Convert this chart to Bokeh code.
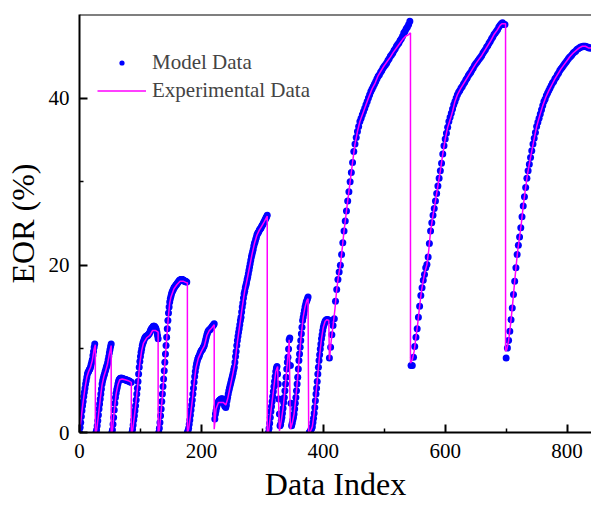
from bokeh.plotting import figure
from bokeh.models import Range1d, FixedTicker, Span, Legend, LegendItem, Title
from bokeh.embed import file_html
from bokeh.resources import INLINE

# ---- Model data (blue dots): segments of data indices (start, step, values) ----
model_a_start, model_a_step = 0, 1
model_a = [0.0, 0.6, 1.2, 1.9, 2.6, 3.2, 3.7, 4.3, 4.8, 5.3, 5.8, 6.2, 6.6, 7.0, 7.2, 7.3, 7.5, 7.6, 7.8, 8.1,
           8.4, 8.7, 9.2, 9.7, 10.2, 10.6]
model_b_start, model_b_step = 27, 1
model_b = [0.0, 0.3, 0.8, 1.4, 2.1, 2.8, 3.4, 4.0, 4.6, 5.2, 5.8, 6.2, 6.5, 6.8, 7.0, 7.3, 7.5, 7.8, 8.0, 8.3,
           8.7, 9.1, 9.5, 9.9, 10.3, 10.6]
model_c_start, model_c_step = 53, 1
model_c = [0.0, 0.3, 1.0, 1.8, 2.7, 3.5, 4.2, 4.7, 5.1, 5.4, 5.8, 6.1, 6.3, 6.4, 6.5, 6.5, 6.5, 6.5, 6.4, 6.4,
           6.4, 6.3, 6.3, 6.3, 6.3, 6.2, 6.2, 6.2, 6.2, 6.1, 6.1, 6.0, 6.0]
model_d_start, model_d_step = 86, 1
model_d = [0.0, 0.4, 0.9, 1.5, 2.0, 2.6, 3.2, 3.9, 4.6, 5.3, 6.1, 7.0, 7.8, 8.5, 9.1, 9.6, 10.0, 10.4, 10.7, 10.9,
           11.1, 11.3, 11.4, 11.5, 11.5, 11.6, 11.6, 11.7, 11.8, 11.9, 12.1, 12.3, 12.4, 12.5, 12.6, 12.7, 12.7,
           12.7, 12.6, 12.5, 12.3, 12.0, 11.6, 11.2]
model_e_start, model_e_step = 130, 1
model_e = [0.0, 0.5, 1.2, 2.0, 2.8, 3.7, 4.6, 5.5, 6.4, 7.4, 8.4, 9.4, 10.4, 11.4, 12.4, 13.4, 14.3, 15.0, 15.6,
           16.0, 16.3, 16.6, 16.8, 17.0, 17.1, 17.3, 17.4, 17.5, 17.6, 17.7, 17.8, 17.9, 18.0, 18.1, 18.2, 18.2,
           18.3, 18.3, 18.3, 18.3, 18.2, 18.2, 18.1, 18.1, 18.1, 18.0, 18.0]
model_f_start, model_f_step = 177, 1
model_f = [0.0, 0.2, 0.5, 1.0, 1.5, 2.1, 2.7, 3.3, 3.9, 4.6, 5.3, 6.0, 6.7, 7.3, 7.8, 8.2, 8.5, 8.8, 9.0, 9.1,
           9.3, 9.5, 9.7, 9.8, 9.9, 10.0, 10.2, 10.3, 10.5, 10.8, 11.1, 11.4, 11.7, 11.9, 12.1, 12.2, 12.3, 12.3,
           12.4, 12.5, 12.6, 12.7, 12.8, 12.9, 13.0]
model_g_start, model_g_step = 222, 1
model_g = [1.6, 2.2, 2.6, 3.0, 3.3, 3.5, 3.7, 3.8, 3.9, 3.9, 4.0, 4.0, 4.0, 4.0, 3.8, 3.5, 3.2, 3.1, 3.0, 3.3,
           3.8, 4.2, 4.6, 5.0, 5.3, 5.6, 5.9, 6.2, 6.5, 6.8, 7.1, 7.5, 7.8, 8.4, 9.1, 9.7, 10.4, 11.0, 11.5, 12.0,
           12.4, 12.9, 13.4, 13.8, 14.4, 15.0, 15.5, 16.1, 16.6, 16.9, 17.3, 17.6, 17.9, 18.3, 18.6, 19.0, 19.4,
           19.8, 20.2, 20.6, 21.0, 21.3, 21.6, 21.9, 22.3, 22.6, 22.8, 23.1, 23.3, 23.6, 23.8, 23.9, 24.0, 24.2,
           24.3, 24.4, 24.5, 24.7, 24.8, 24.9, 25.1, 25.2, 25.4, 25.5, 25.7, 25.8, 26.0]
model_h_start, model_h_step = 310, 1
model_h = [0.0, 0.5, 1.1, 1.8, 2.5, 3.1, 3.7, 4.3, 4.9, 5.5, 6.1, 6.7, 7.3, 7.7, 7.9, 7.0, 5.8, 4.0, 2.2]
model_i_start, model_i_step = 329, 1
model_i = [0.8, 1.0, 1.4, 1.8, 2.3, 2.9, 3.6, 4.2, 5.0, 5.8, 6.6, 7.6, 8.4, 9.0, 10.0, 11.1, 11.3, 8.0, 3.5]
model_j_start, model_j_step = 348, 1
model_j = [0.8, 1.1, 1.5, 1.8, 2.2, 2.8, 3.5, 4.2, 5.0, 5.8, 6.6, 7.6, 8.6, 9.4, 10.2, 11.0, 11.8, 12.6, 13.4,
           13.8, 14.2, 14.6, 15.0, 15.3, 15.6, 15.8, 16.0, 16.2]
model_k_start, model_k_step = 377, 1
model_k = [0.0, 0.1, 0.2, 0.4, 0.5, 0.7, 1.2, 1.7, 2.3, 3.0, 3.8, 4.6, 5.3, 6.1, 7.0, 7.8, 8.6, 9.3, 10.0, 10.6,
           11.2, 11.7, 12.2, 12.6, 12.9, 13.1, 13.3, 13.4, 13.5, 13.5, 13.5, 13.5, 13.4]
model_l_start, model_l_step = 410, 2
model_l = [8.9, 10.2, 11.7, 12.8, 13.6, 15.7, 17.1, 18.3, 19.2, 20.0,
           21.3, 22.7, 24.1, 25.3, 26.5, 27.7, 28.8, 30.0, 31.1, 32.3,
           33.6, 34.5, 35.3, 36.0, 36.6, 37.2, 37.6, 38.0, 38.4, 38.8,
           39.2, 39.6, 40.0, 40.4, 40.8, 41.1, 41.4, 41.7, 42.0, 42.3,
           42.6, 42.8, 43.1, 43.3, 43.6, 43.8, 44.0, 44.2, 44.5, 44.7,
           45.0, 45.2, 45.4, 45.7, 45.9, 46.2, 46.4, 46.6, 46.9, 47.1,
           47.4, 47.8, 48.0, 48.3, 48.5, 48.8, 49.2]
model_m_start, model_m_step = 544, 2
model_m = [8.0, 8.0, 9.0, 10.3, 11.4, 12.4, 13.8, 15.1, 16.4, 17.3,
           18.2, 18.9, 19.7, 20.1, 21.0, 22.6, 24.1, 25.1, 26.0, 26.8,
           27.7, 28.6, 29.5, 30.4, 31.3, 32.2, 33.3, 34.3, 35.1, 35.8,
           36.5, 37.2, 37.7, 38.2, 38.7, 39.2, 39.6, 40.0, 40.4, 40.7,
           40.9, 41.2, 41.4, 41.7, 41.9, 42.2, 42.4, 42.7, 42.9, 43.1,
           43.4, 43.6, 43.9, 44.1, 44.3, 44.5, 44.7, 44.9, 45.1, 45.4,
           45.6, 45.8, 46.1, 46.3, 46.6, 46.8, 47.1, 47.3, 47.6, 47.8,
           48.0, 48.2, 48.5, 48.7, 48.9, 49.0, 48.8, 48.8]
model_n_start, model_n_step = 700, 2
model_n = [8.9, 10.1, 11.0, 12.1, 13.5, 14.9, 16.5, 18.1, 19.7, 21.3,
           22.4, 23.4, 24.5, 25.8, 27.1, 28.2, 29.3, 30.4, 31.3, 32.1,
           32.9, 33.7, 34.5, 35.2, 35.9, 36.6, 37.1, 37.6, 38.1, 38.6,
           39.1, 39.6, 39.9, 40.3, 40.6, 40.9, 41.2, 41.5, 41.8, 42.0,
           42.3, 42.5, 42.8, 43.0, 43.3, 43.5, 43.7, 43.9, 44.1, 44.3,
           44.5, 44.7, 44.9, 45.0, 45.2, 45.4, 45.5, 45.6, 45.8, 45.9,
           46.0, 46.1, 46.1, 46.2, 46.2, 46.2, 46.1, 46.1, 46.0, 46.0,
           46.0]

# ---- Experimental data (magenta line) ----
exp_x = [0, 3, 6, 9, 12, 15, 18, 21, 24, 26, 26,
         28, 31, 34, 37, 40, 43, 46, 49, 52, 52,
         54, 57, 60, 63, 66, 70, 75, 80, 85, 85,
         87, 90, 93, 96, 99, 102, 105, 110, 115, 120, 125, 129, 129,
         131, 134, 137, 140, 143, 146, 148, 150, 155, 160, 165, 170, 176, 177, 177,
         179, 182, 185, 188, 191, 195, 200, 205, 209, 213, 217, 221, 221,
         224, 228, 232, 236, 240, 243, 247, 251, 255, 259, 263, 267, 271, 275, 279, 283, 287, 291, 295, 299,
         303, 308, 308,
         310, 314, 318, 322, 325, 328,
         331, 334, 337, 340, 343, 344, 346,
         349, 352, 355, 358, 361, 364, 367, 370, 373, 375, 376,
         378, 382, 385, 388, 391, 394, 397, 400, 403, 406, 409, 410,
         413, 416, 419, 422, 425, 428, 431, 434, 437, 440, 444, 448, 452, 456, 460, 465, 470, 475, 480, 485,
         490, 495, 500, 505, 510, 515, 520, 525, 530, 535, 540, 543, 543,
         546, 549, 552, 555, 558, 561, 564, 567, 570, 573, 576, 580, 584, 588, 592, 596, 600, 604, 608, 612,
         616, 620, 625, 630, 635, 640, 645, 650, 655, 660, 665, 670, 675, 680, 685, 690, 693, 699, 699,
         701, 704, 707, 710, 713, 716, 719, 722, 725, 728, 731, 735, 740, 745, 750, 755, 760, 765, 770, 775,
         780, 785, 790, 795, 800, 805, 810, 815, 820, 825, 830, 835, 840]
exp_y = [0.0, 1.9, 3.7, 5.3, 6.6, 7.3, 7.8, 8.6, 10.0, 10.5, 0.0,
         0.2, 2.0, 4.0, 5.7, 6.7, 7.4, 8.2, 9.4, 10.4, 0.0,
         0.2, 2.6, 4.6, 5.7, 6.3, 6.4, 6.3, 6.2, 6.0, 0.0,
         0.2, 1.9, 3.8, 6.0, 8.3, 9.8, 10.7, 11.3, 11.6, 12.2, 12.2, 12.0, 0.0,
         0.3, 2.6, 5.3, 8.2, 11.2, 14.0, 15.5, 16.2, 17.2, 17.7, 18.1, 18.1, 17.9, 17.9, 0.0,
         0.4, 2.0, 3.8, 5.9, 7.7, 8.9, 9.7, 10.4, 11.6, 12.2, 12.5, 12.9, 0.4,
         2.8, 3.6, 3.6, 3.6, 3.3, 4.0, 5.4, 6.8, 8.3, 10.8, 12.9, 15.0, 16.9, 18.3, 19.8, 21.3, 22.6, 23.6,
         24.2, 24.7, 25.2, 25.9, 0.0,
         0.0, 2.5, 4.9, 7.3, 7.9, 0.2,
         1.4, 2.9, 5.0, 7.6, 10.0, 11.1, 0.4,
         1.1, 2.2, 4.2, 6.6, 9.4, 11.8, 13.8, 15.0, 15.8, 16.0, 0.0,
         0.0, 0.7, 2.3, 4.6, 7.0, 9.3, 11.2, 12.6, 13.3, 13.5, 13.4, 8.7,
         11.0, 12.8, 14.7, 17.1, 18.8, 20.0, 22.0, 24.1, 25.9, 27.7, 30.0, 32.3, 34.5, 36.0, 37.2, 38.2, 39.2,
         40.2, 41.1, 41.8, 42.7, 43.3, 43.9, 44.4, 44.9, 45.5, 46.0, 46.5, 47.0, 47.4, 47.6, 47.8, 8.3,
         8.7, 9.7, 11.4, 13.1, 15.1, 16.9, 18.2, 19.3, 20.1, 21.8, 24.1, 26.0, 27.7, 29.5, 31.3, 33.3, 35.1,
         36.5, 37.4, 38.4, 39.6, 40.4, 41.1, 41.7, 42.3, 42.9, 43.5, 44.1, 44.6, 45.1, 45.7, 46.3, 46.9, 47.6,
         48.1, 48.7, 48.9, 48.9, 9.7,
         9.9, 11.0, 12.8, 14.9, 17.3, 19.7, 21.8, 23.4, 25.1, 27.1, 28.8, 30.9, 32.9, 34.8, 36.6, 37.9, 39.1,
         40.1, 40.9, 41.6, 42.3, 42.9, 43.5, 44.0, 44.5, 45.0, 45.4, 45.7, 46.0, 46.2, 46.2, 46.0, 46.0]

x_ticks = [0, 200, 400, 600, 800]
x_minor = [100, 300, 500, 700]
y_ticks = [0, 20, 40]
y_minor = [10, 30]

segments = [(model_a_start, model_a_step, model_a), (model_b_start, model_b_step, model_b),
            (model_c_start, model_c_step, model_c), (model_d_start, model_d_step, model_d),
            (model_e_start, model_e_step, model_e), (model_f_start, model_f_step, model_f),
            (model_g_start, model_g_step, model_g), (model_h_start, model_h_step, model_h),
            (model_i_start, model_i_step, model_i), (model_j_start, model_j_step, model_j),
            (model_k_start, model_k_step, model_k), (model_l_start, model_l_step, model_l),
            (model_m_start, model_m_step, model_m), (model_n_start, model_n_step, model_n)]
model_x, model_y = [], []
for start, step, vals in segments:
    model_x += [start + step * k for k in range(len(vals))]
    model_y += vals

n = min(len(exp_x), len(exp_y))
exp_x = exp_x[:n]
exp_y = exp_y[:n]

FONT = "Liberation Serif"
BLUE = "#0000FF"
MAGENTA = "#FF00FF"

p = figure(width=591, height=506, output_backend="svg", toolbar_location=None,
           x_range=Range1d(0, 840), y_range=Range1d(0, 50),
           min_border_left=79, min_border_right=0, min_border_top=14, min_border_bottom=74)
p.xgrid.visible = False
p.ygrid.visible = False
p.outline_line_color = None
p.background_fill_color = "white"
p.border_fill_color = "white"

dots = p.scatter(model_x, model_y, size=7, fill_color=BLUE, line_color=None)
line = p.line(exp_x, exp_y, line_color=MAGENTA, line_width=1.5)
# a proxy point outside the visible ranges, used only for the legend swatch
legend_dot = p.scatter([-100], [-100], size=6, fill_color=BLUE, line_color=None)

p.add_layout(Span(location=50, dimension="width", line_color="black", line_width=2))

for ax in (p.xaxis[0], p.yaxis[0]):
    ax.axis_line_width = 2
    ax.axis_line_color = "black"
    ax.major_tick_in = 8
    ax.major_tick_out = 0
    ax.minor_tick_in = 4
    ax.minor_tick_out = 0
    ax.major_tick_line_width = 2
    ax.minor_tick_line_width = 1.5
    ax.major_label_text_font = FONT
    ax.major_label_text_font_size = "21px"
    ax.major_label_text_color = "black"
    ax.axis_label_text_font = FONT
    ax.axis_label_text_font_size = "32px"
    ax.axis_label_text_font_style = "normal"
    ax.axis_label_text_color = "black"

p.xaxis.ticker = FixedTicker(ticks=x_ticks, minor_ticks=x_minor)
p.yaxis.ticker = FixedTicker(ticks=y_ticks, minor_ticks=y_minor)
p.yaxis.axis_label = "EOR (%)"
p.xaxis.major_label_standoff = 11
p.yaxis.major_label_standoff = 10
p.yaxis.axis_label_standoff = 5

xtitle = Title(text="Data Index", align="center", text_font=FONT, text_font_size="32px",
               text_font_style="normal", text_color="black", standoff=7)
p.add_layout(xtitle, "below")

legend = Legend(items=[LegendItem(label="Model Data", renderers=[legend_dot]),
                       LegendItem(label="Experimental Data", renderers=[line])],
                location=(18, 329), padding=0, margin=0, spacing=3,
                glyph_width=49, glyph_height=13, label_height=24, label_standoff=6,
                label_text_font=FONT, label_text_font_size="21px",
                border_line_color=None, background_fill_alpha=0)
p.add_layout(legend)

open("out.html", "w").write(file_html(p, INLINE))
